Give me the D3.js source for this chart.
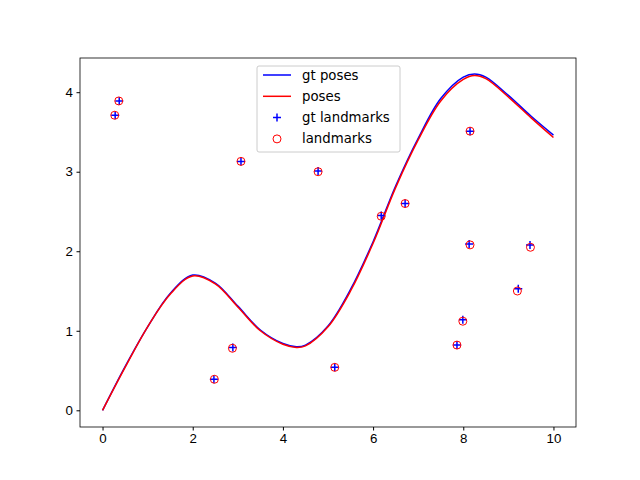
<!DOCTYPE html><html><head><script src="https://d3js.org/d3.v7.min.js"></script>
<style>body{margin:0;background:#fff}</style></head><body><script>
const gtX=[0,0.5,1,1.5,2,2.5,3,3.5,4,4.3,4.5,5,5.5,6,6.5,7,7.5,8,8.25,8.5,9,9.5,10];
const gtY=[0,0.55,1.05,1.47,1.70,1.60,1.31,1.01,0.84,0.80,0.82,1.06,1.52,2.12,2.82,3.42,3.92,4.19,4.23,4.19,3.96,3.70,3.46];
const poseY=[0,0.54,1.05,1.46,1.69,1.59,1.30,1.00,0.83,0.79,0.81,1.05,1.50,2.10,2.80,3.40,3.89,4.16,4.21,4.17,3.94,3.68,3.43];
const gtLX=[0.28,0.37,3.07,4.78,2.47,2.89,5.15,6.18,6.71,8.15,8.13,7.99,7.86,9.22,9.48];
const gtLY=[3.71,3.89,3.13,3.01,0.39,0.79,0.54,2.45,2.60,3.51,2.09,1.14,0.82,1.53,2.08];
const lmX=[0.27,0.36,3.07,4.78,2.48,2.88,5.15,6.18,6.71,8.15,8.15,7.99,7.86,9.20,9.49];
const lmY=[3.71,3.89,3.13,3.00,0.39,0.78,0.54,2.44,2.60,3.51,2.08,1.12,0.82,1.50,2.05];
const xTicks=[0,2,4,6,8,10], yTicks=[0,1,2,3,4];
const W=640,H=480,L=80,R=576,T=58,B=427,FS=13.3;
const svg=d3.select("body").append("svg").attr("width",W).attr("height",H).style("font-family","DejaVu Sans");
const x=d3.scaleLinear().domain([-0.5,10.5]).range([L,R]);
const y=d3.scaleLinear().domain([-0.21,4.43]).range([B,T]);
const line=d3.line().curve(d3.curveCatmullRom);
svg.append("path").attr("d",line(gtX.map((v,i)=>[x(v),y(gtY[i])]))).attr("fill","none").attr("stroke","blue").attr("stroke-width",1.5);
svg.append("path").attr("d",line(gtX.map((v,i)=>[x(v),y(poseY[i])]))).attr("fill","none").attr("stroke","red").attr("stroke-width",1.5);
gtLX.forEach((v,i)=>{const cx=x(v),cy=y(gtLY[i]);
 svg.append("path").attr("d",`M${cx-4},${cy}H${cx+4}M${cx},${cy-4}V${cy+4}`).attr("stroke","blue").attr("stroke-width",1.5);});
lmX.forEach((v,i)=>svg.append("circle").attr("cx",x(v)).attr("cy",y(lmY[i])).attr("r",4).attr("fill","none").attr("stroke","red"));
svg.append("g").attr("transform",`translate(0,${B})`).call(d3.axisBottom(x).tickValues(xTicks).tickFormat(d3.format("d")).tickSize(3.5).tickPadding(3.5)).call(g=>g.select(".domain").remove()).selectAll("text").attr("font-size",FS).attr("fill","#000");
svg.append("g").attr("transform",`translate(${L},0)`).call(d3.axisLeft(y).tickValues(yTicks).tickFormat(d3.format("d")).tickSize(3.5).tickPadding(3.5)).call(g=>g.select(".domain").remove()).selectAll("text").attr("font-size",FS).attr("fill","#000");
svg.append("rect").attr("x",L).attr("y",T).attr("width",R-L).attr("height",B-T).attr("fill","none").attr("stroke","#000").attr("stroke-width",0.8);
const lg=svg.append("g");
lg.append("rect").attr("x",257).attr("y",66).attr("width",143).attr("height",86).attr("rx",2).attr("fill","#fff").attr("fill-opacity",0.8).attr("stroke","#ccc");
const items=[["gt poses","bl"],["poses","rl"],["gt landmarks","p"],["landmarks","c"]];
items.forEach((d,i)=>{const yy=75+i*21.3;
 if(d[1]=="bl"||d[1]=="rl") lg.append("line").attr("x1",263).attr("x2",291).attr("y1",yy).attr("y2",yy).attr("stroke",d[1]=="bl"?"blue":"red").attr("stroke-width",1.5);
 else if(d[1]=="p") lg.append("path").attr("d",`M${273},${yy}h8M${277},${yy-4}v8`).attr("stroke","blue").attr("stroke-width",1.5);
 else lg.append("circle").attr("cx",277).attr("cy",yy).attr("r",4).attr("fill","none").attr("stroke","red");
 lg.append("text").attr("x",302).attr("y",yy+4.5).attr("font-size",FS).text(d[0]);});
</script></body></html>
